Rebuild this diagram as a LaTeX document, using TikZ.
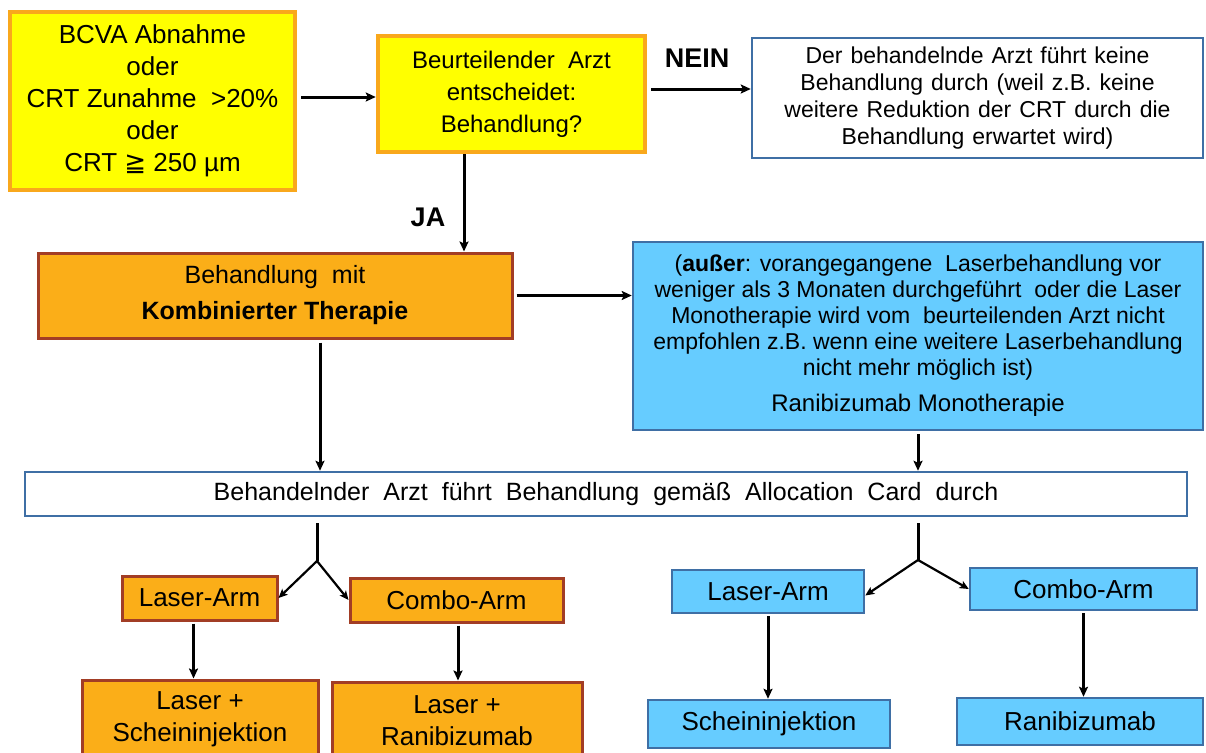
\documentclass[tikz,border=0pt]{standalone}
\usepackage{fontspec}
\setmainfont{Liberation Sans}
\newfontfamily\symfont{DejaVu Sans}
\usetikzlibrary{arrows.meta}

\definecolor{boxyellow}{HTML}{FFFF00}
\definecolor{yellowrim}{HTML}{F9A81C}
\definecolor{boxorange}{HTML}{FBAE18}
\definecolor{orangerim}{HTML}{A23D25}
\definecolor{boxblue}{HTML}{66CCFF}
\definecolor{bluerim}{HTML}{3F6FA5}

\newcommand\fsz[2]{\fontsize{#1}{#2}\selectfont}

\begin{document}
\begin{tikzpicture}[x=1pt,y=-1pt,
  box/.style={rectangle, align=center, inner sep=0pt, text=black},
  sz/.style 2 args={minimum width=#1pt, minimum height=#2pt},
  yelbox/.style={box, fill=boxyellow, draw=yellowrim, line width=4.5pt},
  orabox/.style={box, fill=boxorange, draw=orangerim, line width=3pt},
  blubox/.style={box, fill=boxblue, draw=bluerim, line width=2.5pt},
  whtbox/.style={box, fill=white, draw=bluerim, line width=2.5pt},
  arr/.style={-{Stealth[length=10pt,width=9pt,inset=2pt]}, line width=3pt},
  fork/.style={-{Stealth[length=9pt,width=8pt,inset=2pt]}, line width=2.2pt},
  lbl/.style={font=\bfseries\fsz{27}{30}}
]
\useasboundingbox (0,0) rectangle (1206,752);

% --- top row
\node[yelbox, sz={285}{178}, font=\fsz{26}{32}] (crit) at (152.5,101)
  {BCVA Abnahme\\oder\\CRT Zunahme\ \ >20\%\\oder\\CRT {\symfont ≧} 250 µm};
\node[yelbox, sz={267}{116}, font=\fsz{24}{32}] (decide) at (511.5,94)
  {Beurteilender\ \ Arzt\\entscheidet:\\Behandlung?};
\node[whtbox, sz={451}{120}, font={\fsz{23}{27}\spaceskip=8pt plus 2pt minus 2pt}] (none) at (977.5,98)
  {Der behandelnde Arzt führt keine\\Behandlung durch (weil z.B. keine\\weitere Reduktion der CRT durch die\\Behandlung erwartet wird)};

% --- second row
\node[orabox, sz={474}{85}, font=\fsz{25}{36}] (combi) at (275,295.5)
  {Behandlung\ \ mit\\\textbf{Kombinierter Therapie}};
\node[blubox, sz={570}{188}, font=\fsz{23}{26}] (mono) at (918,336)
  {(\textbf{außer}: vorangegangene\ \ Laserbehandlung vor\\
   weniger als 3 Monaten durchgeführt\ \ oder die Laser\\
   Monotherapie wird vom\ \ beurteilenden Arzt nicht\\
   empfohlen z.B. wenn eine weitere Laserbehandlung\\
   nicht mehr möglich ist)\\[10pt]
   {\fsz{24}{26}Ranibizumab Monotherapie}};

% --- allocation bar
\node[whtbox, sz={1162}{44}, font={\fsz{25}{30}\spaceskip=14pt plus 2pt minus 2pt}] (alloc) at (606,494)
  {Behandelnder Arzt führt Behandlung gemäß Allocation Card durch};

% --- arms, combination branch
\node[orabox, sz={155}{44}, font=\fsz{26}{32}] (lArm) at (199.5,598) {Laser-Arm};
\node[orabox, sz={213}{44}, font=\fsz{26}{32}] (lCombo) at (456.5,600) {Combo-Arm};
\node[orabox, sz={236}{78}, font=\fsz{26}{32}] (lSham) at (200,719) {Laser +\\Scheininjektion};
\node[orabox, sz={250}{78}, font=\fsz{26}{32}] (lRani) at (457,721) {Laser +\\Ranibizumab};

% --- arms, monotherapy branch
\node[blubox, sz={192}{43}, font=\fsz{26}{32}] (rArm) at (768,591.5) {Laser-Arm};
\node[blubox, sz={227}{42}, font=\fsz{26}{32}] (rCombo) at (1083.5,589) {Combo-Arm};
\node[blubox, sz={242}{48}, font=\fsz{26}{32}] (rSham) at (769,724) {Scheininjektion};
\node[blubox, sz={246}{47}, font=\fsz{26}{32}] (rRani) at (1080,721.5) {Ranibizumab};

% --- labels
\node[lbl] (nein) at (697,58) {NEIN};
\node[lbl] (ja) at (428,217) {JA};

% --- connectors
\draw[arr, shorten <=4pt] ([yshift=4pt]crit.east) -- ([yshift=4pt]crit.east -| decide.west);
\draw[arr, shorten <=4pt] ([yshift=5pt]decide.east) -- ([yshift=5pt]decide.east -| none.west);
\draw[arr] ([xshift=-47.5pt]decide.south) -- ([xshift=-47.5pt]decide.south |- combi.north);
\draw[arr, shorten <=3pt] (combi.east) -- (combi.east -| mono.west);
\draw[arr, shorten <=3pt] ([xshift=45pt]combi.south) -- ([xshift=45pt]combi.south |- alloc.north);
\draw[arr, shorten <=3pt] (mono.south) -- (mono.south |- alloc.north);

\coordinate (forkL) at (317,561);
\coordinate (forkR) at (918,560);
\draw[line width=3pt, shorten <=6pt] (alloc.south -| forkL) -- (forkL);
\draw[line width=3pt, shorten <=6pt] (alloc.south -| forkR) -- (forkR);
\draw[fork] (forkL) -- (lArm.east);
\draw[fork] (forkL) -- (lCombo.west);
\draw[fork] (forkR) -- ([yshift=-4pt]rArm.east);
\draw[fork] (forkR) -- (rCombo.west);

\draw[arr, shorten <=2pt] ([xshift=-6pt]lArm.south) -- ([xshift=-6pt]lArm.south |- lSham.north);
\draw[arr, shorten <=2pt] ([xshift=1.5pt]lCombo.south) -- ([xshift=1.5pt]lCombo.south |- lRani.north);
\draw[arr, shorten <=2pt] (rArm.south) -- (rArm.south |- rSham.north);
\draw[arr, shorten <=2pt] (rCombo.south) -- (rCombo.south |- rRani.north);
\end{tikzpicture}
\end{document}
